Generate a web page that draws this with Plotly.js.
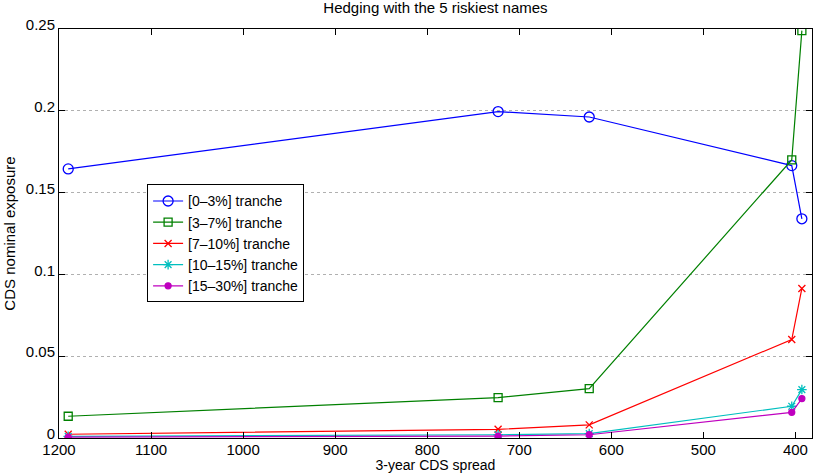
<!DOCTYPE html>
<html><head><meta charset="utf-8">
<script src="https://cdn.plot.ly/plotly-3.0.1.min.js"></script>
<style>html,body{margin:0;padding:0;background:#fff;}#chart{width:814px;height:473px;}</style>
</head><body><div id="chart"></div>
<script>
const spreads = [1190, 723, 624, 404, 393];
const tranche0_3 = [0.1645, 0.1995, 0.1962, 0.1665, 0.1340];
const tranche3_7 = [0.0133, 0.0247, 0.0302, 0.1700, 0.2490];
const tranche7_10 = [0.0023, 0.0053, 0.0080, 0.0602, 0.0914];
const tranche10_15 = [0.0010, 0.0020, 0.0027, 0.0194, 0.0296];
const tranche15_30 = [0.0005, 0.0012, 0.0020, 0.0157, 0.0241];
const names = ["[0–3%] tranche","[3–7%] tranche","[7–10%] tranche","[10–15%] tranche","[15–30%] tranche"];
const xTicks = [1200,1100,1000,900,800,700,600,500,400];
const yTicks = [0,0.05,0.1,0.15,0.2,0.25];
const yTickText = ["0","0.05","0.1","0.15","0.2","0.25"];

const series = [tranche0_3, tranche3_7, tranche7_10, tranche10_15, tranche15_30];
const colors = ["#0000ff","#008000","#ff0000","#00bfbf","#bf00bf"];
const symbols = ["circle-open","square-open","x-thin-open","asterisk-open","circle"];
const sizes = [10, 8, 7, 8, 6];
const traces = series.map((s,i)=>({
  x: spreads, y: s, name: names[i], type:'scatter', mode:'lines+markers',
  line:{color:colors[i], width:1.2},
  marker:{symbol:symbols[i], size:sizes[i], color:colors[i], line:{color:colors[i], width:1.3}}
}));
const font = {family:'Liberation Sans, Arial, sans-serif', color:'#000'};
const layout = {
  width:814, height:473,
  margin:{l:59, r:2, t:29, b:35},
  paper_bgcolor:'#fff', plot_bgcolor:'#fff',
  title:{text:'Hedging with the 5 riskiest names', font:{...font, size:15}, x:0.535, xanchor:'center', y:0.995, yanchor:'top'},
  xaxis:{range:[1200,382], tickvals:xTicks, ticktext:xTicks.map(String), ticks:'inside', ticklen:6, tickcolor:'#000',
    showline:true, linecolor:'#000', linewidth:1, mirror:'ticks', showgrid:false, zeroline:false,
    tickfont:{...font, size:15}, ticklabelstandoff:-2,
    title:{text:'3-year CDS spread', font:{...font, size:14}, standoff:5}},
  yaxis:{range:[0,0.25], tickvals:yTicks, ticktext:yTickText, ticks:'inside', ticklen:6, tickcolor:'#000',
    showline:true, linecolor:'#000', linewidth:1, mirror:'ticks', showgrid:true, gridcolor:'#b0b0b0', griddash:'dot', gridwidth:1,
    zeroline:false, tickfont:{...font, size:15}, ticklabelshift:-4,
    title:{text:'CDS nominal exposure', font:{...font, size:15}, standoff:6}},
  legend:{x:0.117, y:0.62, xanchor:'left', yanchor:'top', bgcolor:'#fff', bordercolor:'#000', borderwidth:1,
    font:{...font, size:14}, tracegroupgap:0, itemwidth:30},
  showlegend:true
};
Plotly.newPlot('chart', traces, layout, {displayModeBar:false, staticPlot:true});
</script></body></html>
